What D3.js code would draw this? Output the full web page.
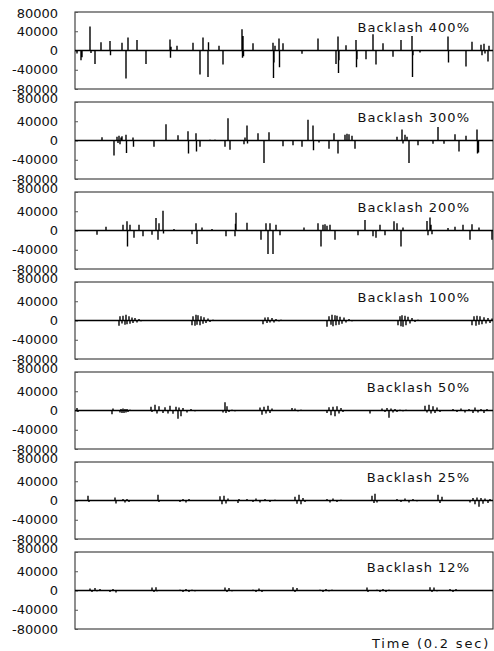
<!DOCTYPE html>
<html><head><meta charset="utf-8">
<script src="https://cdn.jsdelivr.net/npm/d3@7"></script>
<style>body{margin:0;background:#fff}svg{display:block}</style>
</head><body><svg id="c" width="494" height="651"></svg>
<script>
const titles = ["Backlash 400%","Backlash 300%","Backlash 200%","Backlash 100%","Backlash 50%","Backlash 25%","Backlash 12%"];
const yTicks = [80000, 40000, 0, -40000, -80000];
const timeDomain = [0, 418];
const xLabel = "Time (0.2 sec)";

// spikes: [time sample, amplitude]
const spikes400 = [[2,-6000],[6,-20000],[7,-14000],[15,50000],[16,-5000],[20,-28000],[26,17000],[35,20000],[35.5,-10000],[47,16000],[51,-58000],[53,27000],[62,22000],[71,-28000],[95,23000],[95.5,-15000],[96,8000],[102,10000],[118,16000],[125,-50000],[128,27000],[133,-55000],[133.5,17000],[144,10000],[148,-29000],[167,44000],[167.5,-15000],[168,30000],[168.5,-12000],[178,15000],[198,16000],[198.5,-57000],[199,-25000],[200,10000],[204,25000],[204.5,-35000],[208,15000],[227,-7000],[243,25000],[261,-28000],[263,29000],[263.5,-47000],[264,-20000],[271,11000],[281,22000],[281.5,-35000],[282,-18000],[291,-18000],[298,34000],[301,-29000],[308,15000],[318,-13000],[326,22000],[337,30000],[337.5,-55000],[338,-10000],[345,-4000],[373,29000],[373.5,-25000],[391,-33000],[397,18000],[406,12000],[407,-10000],[409,14000],[410,-6000],[413,-23000],[414,10000]];
const spikes300 = [[27,7000],[39,-31000],[42,8000],[43,-5000],[44,10000],[45,-8000],[46,6000],[47,9000],[51,12000],[51.5,-26000],[58,6000],[58.5,-13000],[79,-13000],[91,34000],[103,11000],[113,19000],[113.5,-27000],[121,15000],[121.5,-23000],[125,-13000],[135,2000],[140,2000],[145,1500],[150,-13000],[153,46000],[155,-19000],[169,-8000],[170,6000],[172,31000],[172.5,-6000],[183,15000],[189,-47000],[194,17000],[208,-12000],[218,-10000],[227,-13000],[233,43000],[238,31000],[238.5,-20000],[244,-4000],[254,-17000],[259,15000],[263,-27000],[270,12000],[272,14000],[274,13000],[277,10000],[280,-17000],[322,8000],[327,23000],[328,-6000],[330,12000],[332,8000],[334,-47000],[343,-10000],[358,-7000],[363,28000],[369,-7000],[380,13000],[384,-23000],[391,10000],[402,23000],[402.5,-27000],[403,-22000],[403.5,-25000]];
const spikes200 = [[22,-9000],[31,8000],[48,12000],[52,19000],[52.5,-33000],[55,12000],[59,-15000],[64,12000],[68,-12000],[77,-9000],[81,26000],[83,-19000],[84,15000],[88,41000],[88.5,-6000],[99,3000],[117,-8000],[121,15000],[122,-28000],[127,6000],[137,3000],[151,-12000],[160,-12000],[160.5,14000],[161,37000],[172,16000],[186,-19000],[191,15000],[193,-49000],[195,15000],[198,-49000],[201,12000],[205,-10000],[229,6000],[243,15000],[246,-33000],[248,12000],[250,13000],[252,10000],[255,12000],[260,-19000],[283,-10000],[290,22000],[298,-12000],[301,-15000],[305,12000],[310,-10000],[319,19000],[322,15000],[326,-33000],[328,6000],[352,20000],[353,-10000],[355,27000],[356,12000],[357,-8000],[373,5000],[380,8000],[388,12000],[395,-19000],[397,13000],[404,6000],[417,-19000]];
const spikes100 = [[44,-11000],[45,9000],[47,-6000],[48,10000],[50,-9000],[51,12000],[52,-8000],[54,9000],[55,-7000],[57,6000],[58,-5000],[60,5000],[62,-4000],[64,3000],[66,-2000],[117,-10000],[118,9000],[120,-11000],[121,12000],[122,-9000],[123,11000],[125,-10000],[126,9000],[128,-7000],[129,7000],[131,-5000],[133,4000],[135,-3000],[138,2000],[188,-8000],[190,6000],[192,-5000],[193,7000],[195,-4000],[197,5000],[199,-4000],[201,3000],[204,-2000],[206,2000],[252,-13000],[254,9000],[256,-9000],[257,12000],[258,-12000],[260,11000],[261,-10000],[262,10000],[264,-9000],[265,8000],[267,-7000],[269,6000],[271,-4000],[274,3000],[277,-2000],[323,-10000],[325,9000],[326,-12000],[327,11000],[328,-13000],[330,10000],[331,-10000],[333,8000],[335,-6000],[337,5000],[340,-3000],[343,2000],[397,-10000],[399,9000],[401,-11000],[402,10000],[404,-9000],[405,9000],[407,-8000],[409,7000],[411,-6000],[413,5000],[415,-5000],[417,4000]];
const spikes50 = [[2,5000],[3,-3000],[37,-8000],[38,4000],[45,-4000],[46,3000],[47,-5000],[48,4000],[49,-5000],[50,3000],[51,-4000],[52,3000],[53,-3000],[55,2000],[76,8000],[77,-3000],[80,12000],[82,-6000],[84,9000],[88,-5000],[90,7000],[93,-6000],[95,10000],[98,-7000],[101,8000],[103,-17000],[104,6000],[106,-12000],[108,5000],[112,-4000],[116,3000],[120,-2000],[148,-4000],[150,17000],[151,-5000],[152,9000],[154,-3000],[157,2000],[160,-2000],[185,6000],[187,-9000],[189,8000],[191,-6000],[193,10000],[195,-5000],[197,4000],[217,5000],[220,4000],[223,-2000],[226,2000],[252,-5000],[254,7000],[256,-10000],[258,8000],[260,-12000],[262,9000],[264,-6000],[266,5000],[268,-3000],[295,-6000],[307,4000],[310,-3000],[312,5000],[314,-15000],[316,4000],[318,-4000],[320,3000],[322,-3000],[325,2000],[328,-2000],[331,2000],[350,10000],[352,-4000],[354,12000],[356,-6000],[358,9000],[360,-5000],[362,6000],[365,-3000],[378,3000],[382,-3000],[386,4000],[390,-4000],[394,3000],[398,-5000],[400,6000],[403,-4000],[406,3000],[409,-5000],[412,3000]];
const spikes25 = [[13,10000],[14,-3000],[40,6000],[41,-6000],[48,3000],[50,-4000],[52,3000],[54,-3000],[83,12000],[84,-3000],[105,-3000],[108,3000],[111,-4000],[114,3000],[145,9000],[147,-8000],[149,10000],[151,-6000],[153,4000],[163,-5000],[164,3000],[172,3000],[178,-3000],[181,4000],[185,-4000],[190,3000],[195,-3000],[200,2000],[220,8000],[222,-7000],[224,12000],[226,-8000],[228,5000],[230,-3000],[252,3000],[255,-4000],[258,4000],[262,-3000],[266,2000],[297,10000],[299,-5000],[300,14000],[302,-4000],[322,3000],[326,-3000],[330,4000],[334,-4000],[338,3000],[342,-2000],[363,12000],[365,-5000],[367,8000],[395,-4000],[398,5000],[400,-8000],[402,6000],[404,-13000],[406,5000],[408,-7000],[410,4000],[413,-5000],[415,3000]];
const spikes12 = [[15,4000],[17,-3000],[20,5000],[22,-2000],[25,3000],[35,-3000],[38,3000],[41,-4000],[77,6000],[79,-3000],[81,7000],[82,-2000],[105,2000],[108,-3000],[111,3000],[114,-3000],[117,2000],[120,-2000],[150,6000],[152,-3000],[154,5000],[157,-2000],[178,2000],[181,-3000],[184,4000],[187,-3000],[218,7000],[220,-3000],[222,5000],[245,2000],[248,-3000],[251,3000],[254,-2000],[257,2000],[292,6000],[293,-3000],[302,2000],[305,-3000],[308,3000],[311,-3000],[314,2000],[355,7000],[357,-3000],[359,6000],[362,-2000],[375,3000],[378,-3000],[381,3000]];

const series = [spikes400, spikes300, spikes200, spikes100, spikes50, spikes25, spikes12];

const svg = d3.select("#c");
const L = 75, R = 493, top0 = 12, step = 90, H = 77;
const x = d3.scaleLinear().domain(timeDomain).range([L, R]);
const fmt = d => d < 0 ? "-" + Math.abs(d) : String(d);

series.forEach((data, i) => {
  const top = top0 + i * step;
  const y = d3.scaleLinear().domain([-80000, 80000]).range([top + H, top]);
  const g = svg.append("g");

  g.append("rect").attr("x", L).attr("y", top).attr("width", R - L).attr("height", H)
    .attr("fill", "none").attr("stroke", "#333").attr("stroke-width", 1.1);

  const ax = g.append("g").attr("transform", `translate(${L},0)`)
    .call(d3.axisLeft(y).tickValues(yTicks).tickSizeInner(-3).tickSizeOuter(0).tickPadding(17).tickFormat(fmt));
  ax.select(".domain").remove();
  ax.selectAll(".tick line").attr("stroke", "#555");
  ax.selectAll(".tick text")
    .attr("font-family", "DejaVu Sans, sans-serif").attr("font-size", 13).attr("fill", "#111")
    .attr("dy", d => d === 80000 ? (i === 0 ? "0.45em" : "0.05em") : (d === -80000 ? "0.35em" : "0.32em"));

  const sorted = data.slice().sort((a, b) => a[0] - b[0]);
  const pts = [[timeDomain[0], 0]];
  sorted.forEach(([t, v]) => { pts.push([t, 0], [t, v], [t, 0]); });
  pts.push([timeDomain[1], 0]);
  const line = d3.line().x(d => x(d[0])).y(d => y(d[1]));
  g.append("path").attr("d", line(pts)).attr("fill", "none")
    .attr("stroke", "#000").attr("stroke-width", 1.4).attr("stroke-linejoin", "miter");

  g.append("text").attr("x", 470).attr("y", top + 20).attr("text-anchor", "end")
    .attr("font-family", "DejaVu Sans, sans-serif").attr("font-size", 13)
    .attr("letter-spacing", 1).attr("fill", "#111").text(titles[i]);
});

svg.append("text").attr("x", 490).attr("y", 651).attr("dy", "-0.2em").attr("text-anchor", "end")
  .attr("font-family", "DejaVu Sans, sans-serif").attr("font-size", 13)
  .attr("letter-spacing", 1.8).attr("fill", "#111").text(xLabel);
</script></body></html>
